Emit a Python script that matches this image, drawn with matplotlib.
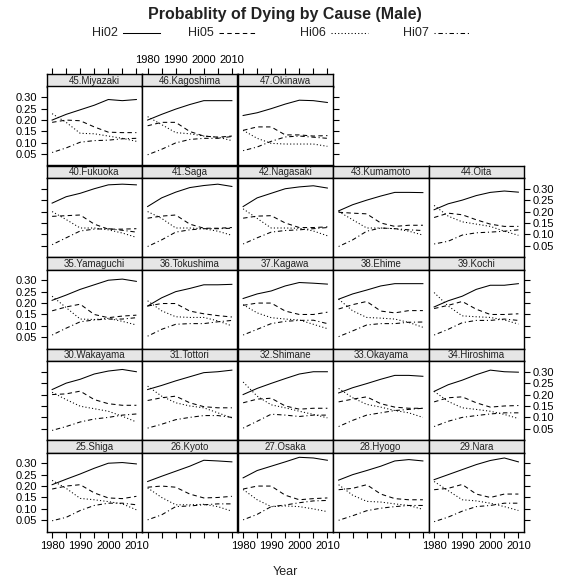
import numpy as np
import matplotlib.pyplot as plt
from matplotlib.lines import Line2D

plt.rcParams['font.family'] = ['Liberation Sans', 'DejaVu Sans']
plt.rcParams['lines.scale_dashes'] = False

years = [1980, 1985, 1990, 1995, 2000, 2005, 2010]

# panel order: top row first (lattice draws bottom-up)
prefs = ['45.Miyazaki', '46.Kagoshima', '47.Okinawa',
         '40.Fukuoka', '41.Saga', '42.Nagasaki', '43.Kumamoto', '44.Oita',
         '35.Yamaguchi', '36.Tokushima', '37.Kagawa', '38.Ehime', '39.Kochi',
         '30.Wakayama', '31.Tottori', '32.Shimane', '33.Okayama', '34.Hiroshima',
         '25.Shiga', '26.Kyoto', '27.Osaka', '28.Hyogo', '29.Nara']

hi02 = [
    [.200, .225, .245, .265, .290, .285, .290],
    [.200, .225, .248, .268, .285, .285, .285],
    [.220, .232, .250, .270, .287, .285, .277],
    [.237, .265, .280, .300, .317, .320, .317],
    [.222, .260, .285, .305, .314, .320, .310],
    [.222, .260, .280, .300, .308, .313, .303],
    [.203, .230, .250, .268, .284, .284, .283],
    [.208, .234, .250, .270, .284, .290, .285],
    [.212, .235, .260, .280, .300, .305, .295],
    [.187, .223, .250, .264, .280, .280, .282],
    [.220, .240, .253, .275, .290, .287, .283],
    [.217, .240, .257, .275, .285, .285, .285],
    [.183, .210, .230, .260, .278, .278, .285],
    [.222, .250, .267, .290, .303, .310, .300],
    [.222, .240, .260, .278, .296, .300, .307],
    [.200, .227, .249, .270, .290, .300, .300],
    [.207, .230, .248, .267, .284, .284, .280],
    [.214, .243, .263, .287, .307, .300, .298],
    [.206, .230, .253, .278, .300, .303, .297],
    [.220, .243, .265, .287, .313, .310, .306],
    [.236, .268, .287, .306, .326, .323, .313],
    [.226, .250, .268, .287, .310, .316, .310],
    [.228, .250, .272, .294, .312, .323, .306],
]

hi05 = [
    [.190, .200, .197, .170, .147, .145, .145],
    [.175, .190, .190, .150, .130, .125, .130],
    [.155, .170, .170, .135, .135, .130, .132],
    [.179, .182, .185, .145, .123, .123, .125],
    [.171, .180, .185, .145, .127, .127, .130],
    [.171, .180, .182, .150, .130, .130, .133],
    [.197, .193, .190, .150, .135, .140, .140],
    [.174, .193, .186, .164, .145, .135, .135],
    [.166, .183, .195, .150, .136, .143, .147],
    [.187, .198, .198, .165, .153, .145, .139],
    [.190, .200, .200, .165, .150, .150, .160],
    [.174, .193, .207, .165, .157, .167, .167],
    [.176, .190, .207, .173, .150, .150, .153],
    [.200, .203, .215, .178, .160, .153, .153],
    [.174, .186, .193, .164, .147, .142, .142],
    [.164, .180, .184, .150, .136, .140, .140],
    [.168, .180, .190, .160, .145, .140, .140],
    [.168, .186, .190, .164, .145, .150, .152],
    [.187, .200, .206, .170, .148, .145, .155],
    [.195, .200, .195, .165, .148, .150, .155],
    [.187, .200, .200, .160, .140, .145, .148],
    [.184, .190, .206, .165, .145, .140, .140],
    [.184, .190, .207, .165, .150, .165, .165],
]

hi06 = [
    [.228, .190, .142, .140, .130, .120, .107],
    [.215, .180, .145, .140, .130, .125, .110],
    [.155, .120, .098, .095, .095, .095, .085],
    [.200, .165, .128, .128, .120, .106, .087],
    [.200, .170, .128, .128, .125, .114, .096],
    [.212, .170, .128, .128, .127, .115, .094],
    [.200, .164, .128, .128, .125, .114, .097],
    [.227, .180, .155, .145, .135, .114, .096],
    [.230, .180, .130, .128, .133, .120, .104],
    [.210, .166, .140, .137, .137, .122, .100],
    [.193, .157, .136, .130, .126, .107, .088],
    [.217, .166, .137, .134, .130, .115, .094],
    [.246, .187, .144, .140, .137, .126, .108],
    [.210, .178, .149, .138, .127, .105, .080],
    [.237, .193, .164, .150, .142, .120, .098],
    [.255, .193, .155, .142, .127, .113, .098],
    [.227, .186, .157, .145, .130, .120, .100],
    [.214, .170, .142, .135, .127, .113, .095],
    [.225, .190, .146, .140, .132, .122, .096],
    [.192, .150, .118, .118, .120, .110, .090],
    [.185, .140, .110, .113, .110, .100, .088],
    [.206, .160, .133, .130, .122, .115, .098],
    [.220, .180, .140, .135, .125, .110, .093],
]

hi07 = [
    [.058, .078, .103, .110, .112, .118, .120],
    [.048, .072, .100, .115, .120, .120, .128],
    [.066, .082, .107, .126, .130, .125, .120],
    [.055, .085, .115, .123, .125, .118, .110],
    [.047, .076, .110, .120, .125, .125, .127],
    [.058, .085, .110, .117, .120, .125, .130],
    [.047, .076, .114, .128, .125, .120, .117],
    [.058, .070, .097, .107, .110, .114, .120],
    [.060, .090, .118, .126, .130, .130, .136],
    [.055, .085, .107, .110, .110, .118, .124],
    [.060, .085, .110, .120, .124, .125, .110],
    [.053, .078, .104, .110, .110, .116, .117],
    [.060, .085, .114, .124, .124, .130, .124],
    [.043, .060, .080, .093, .100, .110, .115],
    [.053, .070, .090, .100, .108, .108, .100],
    [.053, .083, .114, .110, .104, .110, .110],
    [.060, .087, .110, .120, .130, .135, .140],
    [.060, .083, .100, .108, .115, .120, .120],
    [.048, .063, .093, .115, .125, .125, .118],
    [.052, .074, .110, .113, .118, .122, .122],
    [.052, .076, .110, .117, .127, .135, .137],
    [.050, .070, .092, .103, .110, .115, .115],
    [.044, .064, .090, .110, .115, .125, .125],
]

series = [('Hi02', hi02, '-'),
          ('Hi05', hi05, (0, (3.2, 2.4))),
          ('Hi06', hi06, (0, (0.8, 1.6))),
          ('Hi07', hi07, (0, (0.8, 2.0, 3.2, 2.0)))]

W, H = 570, 584
fig = plt.figure(figsize=(W / 100, H / 100), dpi=100)


def box(x, y, w, h):
    # pixel box (top-left origin) -> figure fraction
    return [x / W, 1 - (y + h) / H, w / W, h / H]


left, colw = 46.5, 95.5
top, rowh, striph = 74.0, 91.5, 12.5
xlim = (1978.0, 2012.0)
ylim = (0.001, 0.347)
yt = [0.05, 0.10, 0.15, 0.20, 0.25, 0.30]
xt = [1980, 1985, 1990, 1995, 2000, 2005, 2010]
xlab = ['1980', '', '1990', '', '2000', '', '2010']
tkw = dict(direction='out', length=4.5, width=0.8, labelsize=8, pad=2)

cells = [(0, c) for c in range(3)] + [(r, c) for r in range(1, 5) for c in range(5)]

for k, (r, c) in enumerate(cells):
    ncol = 3 if r == 0 else 5
    x0 = left + c * colw
    y0 = top + r * rowh
    sax = fig.add_axes(box(x0, y0, colw, striph))
    ax = fig.add_axes(box(x0, y0 + striph, colw, rowh - striph))

    sax.set_facecolor('#e6e6e6')
    sax.set_xlim(xlim)
    sax.set_ylim(0, 1)
    sax.set_yticks([])
    sax.text(0.5, 0.45, prefs[k], transform=sax.transAxes, ha='center',
             va='center', fontsize=7, color='#222222')
    if r == 0:
        sax.xaxis.tick_top()
        sax.set_xticks(xt)
        sax.set_xticklabels(xlab if c == 1 else [''] * 7)
        sax.tick_params(axis='x', **tkw)
    else:
        sax.set_xticks([])

    for name, vals, ls in series:
        ax.plot(years, vals[k], color='black', lw=0.75, ls=ls)
    ax.set_xlim(xlim)
    ax.set_ylim(ylim)

    if r == 4:
        ax.set_xticks(xt)
        ax.set_xticklabels(xlab if c % 2 == 0 else [''] * 7)
        ax.tick_params(axis='x', **tkw)
    else:
        ax.set_xticks([])

    yleft = c == 0
    yright = c == ncol - 1
    if yleft or yright:
        ax.set_yticks(yt)
        ax.set_yticklabels(['%.2f' % v for v in yt])
        ax.tick_params(axis='y', left=yleft, right=yright,
                       labelleft=yleft and r % 2 == 0,
                       labelright=yright and r % 2 == 1, **tkw)
    else:
        ax.set_yticks([])

    for a in (ax, sax):
        for s in a.spines.values():
            s.set_linewidth(1.0)

fig.text(0.5, 1 - 14 / H, 'Probablity of Dying by Cause (Male)', ha='center',
         va='center', fontsize=11.5, fontweight='bold', color='#222222')

# legend row
lx = [92, 188, 300, 403]
for (name, vals, ls), x in zip(series, lx):
    fig.text(x / W, 1 - 33 / H, name, ha='left', va='center', fontsize=9,
             color='#222222')
    fig.add_artist(Line2D([(x + 31) / W, (x + 68) / W], [1 - 33 / H, 1 - 33 / H],
                          color='black', lw=0.75, ls=ls))

fig.text((left + 2.5 * colw) / W, 1 - 572 / H, 'Year', ha='center', va='center',
         fontsize=9, color='#222222')

fig.savefig('out.png', dpi=100)
